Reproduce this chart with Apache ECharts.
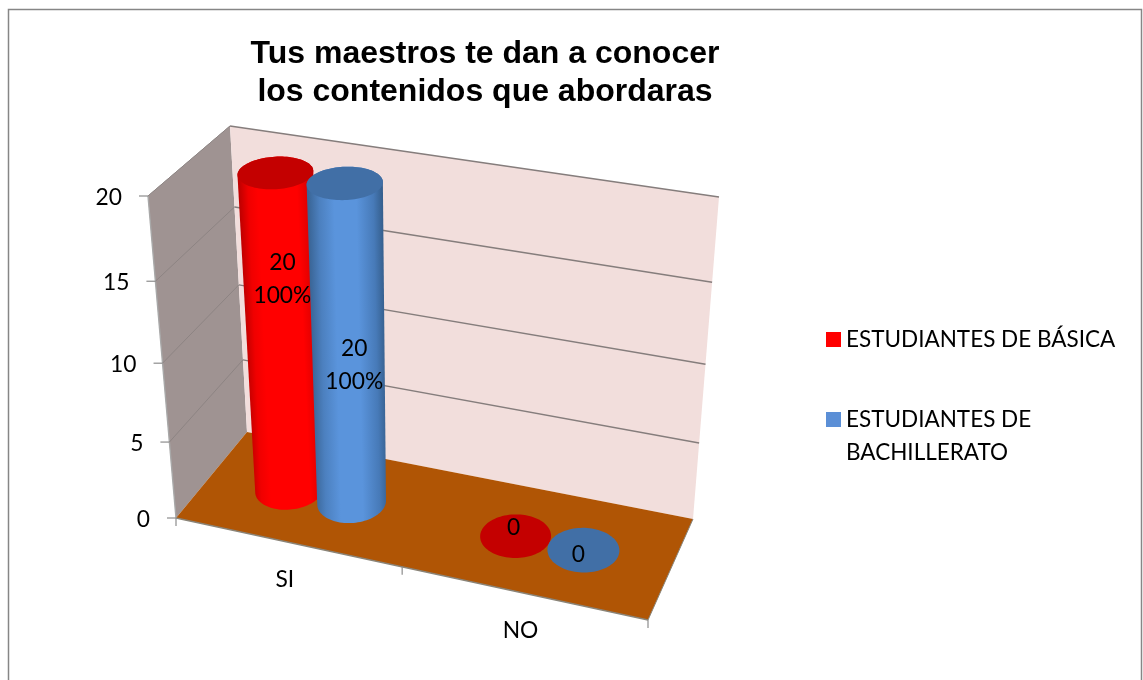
<!DOCTYPE html>
<html>
<head>
<meta charset="utf-8">
<style>html,body{margin:0;padding:0;background:#fff}#c{width:1143px;height:680px}</style>
<script src="https://cdn.jsdelivr.net/npm/echarts@6/dist/echarts.min.js"></script>
</head>
<body>
<div id="c"></div>
<script>
const categories = ['SI', 'NO'];
const valueTicks = [0, 5, 10, 15, 20];
const basica = [20, 0];
const bachillerato = [20, 0];
const basicaPct = [100, 0];
const bachilleratoPct = [100, 0];
const titleText = 'Tus maestros te dan a conocer\nlos contenidos que abordaras';
const nameBasica = 'ESTUDIANTES DE BÁSICA';
const nameBachillerato = 'ESTUDIANTES DE\nBACHILLERATO';

const FONT = 'Lato';
// Box corners on the page: [u][v][w] -> category, value, depth
const CORNERS = {
  '000': [176, 518], '100': [648, 620], '001': [247, 432], '101': [693, 519],
  '010': [148, 196], '110': [680, 279], '011': [230, 126], '111': [719, 197]
};
const persp = (t, k) => t / (k + t * (1 - k));
function project(u, v, w) {
  const a = persp(u, 1.087), b = persp(v, 1.08), c = persp(w, 0.9375);
  let x = 0, y = 0;
  for (const key in CORNERS) {
    const f = (key[0] === '1' ? a : 1 - a) * (key[1] === '1' ? b : 1 - b) * (key[2] === '1' ? c : 1 - c);
    x += f * CORNERS[key][0];
    y += f * CORNERS[key][1];
  }
  return [x, y];
}
function norm(params, api, cat, val) {
  const cs = params.coordSys, p = api.coord([cat, val]);
  return [(p[0] - cs.x) / cs.width, (cs.y + cs.height - p[1]) / cs.height];
}
function hull(pts) {
  const s = pts.slice().sort((p, q) => p[0] - q[0] || p[1] - q[1]);
  const cr = (o, a, b) => (a[0] - o[0]) * (b[1] - o[1]) - (a[1] - o[1]) * (b[0] - o[0]);
  const lo = [], up = [];
  for (const p of s) { while (lo.length > 1 && cr(lo[lo.length - 2], lo[lo.length - 1], p) <= 0) lo.pop(); lo.push(p); }
  for (const p of s.slice().reverse()) { while (up.length > 1 && cr(up[up.length - 2], up[up.length - 1], p) <= 0) up.pop(); up.push(p); }
  return lo.slice(0, -1).concat(up.slice(0, -1));
}
const poly = (points, fill, z) => ({ type: 'polygon', shape: { points }, style: { fill }, z2: z || 0 });
const line = (a, b, stroke, width) => ({ type: 'line', shape: { x1: a[0], y1: a[1], x2: b[0], y2: b[1] }, style: { stroke, lineWidth: width || 1 } });
const label = (x, y, text, align, size) => ({ type: 'text', z2: 10, style: { x, y, text, fill: '#000', font: (size || 22.8) + 'px ' + FONT, align: align || 'center', verticalAlign: 'middle', lineHeight: 33 } });

function renderBox() {
  const A = project(0, 1, 0), B = project(0, 1, 1), C = project(0, 0, 1), D = project(0, 0, 0);
  const E = project(1, 1, 1), F = project(1, 0, 1), G = project(1, 0, 0);
  return { type: 'group', children: [
    poly([A, B, C, D], '#9f9392'),
    poly([B, E, F, C], '#f2dedc'),
    poly([D, C, F, G], '#b05505'),
    line(B, E, '#857d7c', 1.4),
    line(A, B, '#a9a2a1', 1),
    line(A, D, '#a8a8a8', 1.4),
    line(D, G, '#8a8478', 1.4),
    line(G, F, '#8a8478', 1)
  ] };
}
function renderTick(params, api) {
  const val = api.value(1);
  const v = norm(params, api, 0, val)[1];
  const a = project(0, v, 0), b = project(0, v, 1), c = project(1, v, 1);
  const kids = [line([a[0] - 9, a[1]], a, '#8c8c8c', 1.2), label(a[0] - 26, a[1] + 1.5, String(val), 'right')];
  if (val > 0) {
    kids.push(line(a, b, '#8d8483', 1));
    if (val < 20) kids.push(line(b, c, '#857d7c', 1.4));
  }
  return { type: 'group', children: kids };
}
function renderCat(params, api) {
  const cat = api.value(0);
  const u = norm(params, api, cat, 0)[0];
  const kids = [];
  const edge = project(u, 0, 0);
  kids.push(label(edge[0] - 2, edge[1] + 38, categories[cat]));
  const r = project(u + 0.25, 0, 0);
  kids.push(line(r, [r[0], r[1] + 8], '#8c8c8c', 1.2));
  if (cat === 0) {
    const o = project(0, 0, 0);
    kids.push(line(o, [o[0], o[1] + 8], '#8c8c8c', 1.2));
  }
  return { type: 'group', children: kids };
}
function cylinder(off, look, pct, lblTall, lblFlat) {
  return function (params, api) {
    const cat = api.value(0), val = api.value(1);
    const n = norm(params, api, cat, val);
    const uc = n[0] + off, vt = n[1], wc = 0.5, ru = 0.071, rw = 0.216;
    const ring = v => {
      const out = [];
      for (let i = 0; i < 96; i++) {
        const th = i / 96 * Math.PI * 2;
        out.push(project(uc + ru * Math.cos(th), v, wc + rw * Math.sin(th)));
      }
      return out;
    };
    const bottom = ring(0), top = ring(vt);
    const cB = project(uc, 0, wc), cT = project(uc, vt, wc);
    const kids = [];
    if (val > 0) {
      const mid = [(cB[0] + cT[0]) / 2, (cB[1] + cT[1]) / 2];
      const dx = cB[0] - cT[0], dy = cB[1] - cT[1], len = Math.hypot(dx, dy);
      const R = 37, px = dy / len * R, py = -dx / len * R;
      const grad = new echarts.graphic.LinearGradient(mid[0] - px, mid[1] - py, mid[0] + px, mid[1] + py, look.stops, true);
      kids.push({ type: 'polygon', shape: { points: hull(bottom.concat(top)) }, style: { fill: grad } });
    }
    kids.push(poly(top, look.cap));
    const m = [(cB[0] + cT[0]) / 2, (cB[1] + cT[1]) / 2];
    const pv = pct[cat];
    const off2 = val > 0 ? lblTall : lblFlat;
    kids.push(label(m[0] + off2[0], m[1] + off2[1], val > 0 ? val + '\n' + pv + '%' : String(val)));
    return { type: 'group', children: kids };
  };
}
const RED = { cap: '#c40000', stops: [
  { offset: 0, color: '#c00000' }, { offset: 0.12, color: '#f00000' }, { offset: 0.25, color: '#ff0000' },
  { offset: 0.78, color: '#ff0000' }, { offset: 0.92, color: '#e00000' }, { offset: 1, color: '#b80000' }] };
const BLUE = { cap: '#416fa6', stops: [
  { offset: 0, color: '#3a6596' }, { offset: 0.15, color: '#4c80bf' }, { offset: 0.35, color: '#5a94dc' },
  { offset: 0.65, color: '#5a94dc' }, { offset: 0.88, color: '#477ab8' }, { offset: 1, color: '#36608f' }] };

const idx = arr => arr.map((v, i) => [i, v]);
const chart = echarts.init(document.getElementById('c'), null, { renderer: 'canvas' });
chart.setOption({
  animation: false,
  backgroundColor: '#ffffff',
  graphic: [{ type: 'rect', z: -1, silent: true, shape: { x: 8.5, y: 9.5, width: 1133, height: 700 }, style: { fill: '#fff', stroke: '#868686', lineWidth: 1.5 } }],
  title: {
    text: titleText, left: 480, top: 30, textAlign: 'center',
    textStyle: { fontFamily: 'Liberation Sans', fontWeight: 'bold', fontSize: 32, lineHeight: 38, color: '#000' }
  },
  legend: {
    left: 821, top: 318, orient: 'vertical', itemWidth: 15, itemHeight: 15, itemGap: 14, selectedMode: false,
    icon: 'rect',
    formatter: name => (name === nameBachillerato ? ' \n' + name : name),
    textStyle: { fontFamily: FONT, fontSize: 22.5, color: '#000', lineHeight: 33 },
    data: [{ name: nameBasica }, { name: nameBachillerato }]
  },
  grid: { left: 176, top: 196, width: 472, height: 322 },
  xAxis: { type: 'category', data: categories, show: false },
  yAxis: { type: 'value', min: 0, max: 20, interval: 5, show: false },
  series: [
    { type: 'custom', name: 'caja', silent: true, clip: false, data: [[0, 0]], renderItem: renderBox, z: 1 },
    { type: 'custom', name: 'valores', silent: true, clip: false, data: valueTicks.map(v => [0, v]), renderItem: renderTick, z: 2 },
    { type: 'custom', name: 'categorias', silent: true, clip: false, data: categories.map((c, i) => [i, 0]), renderItem: renderCat, z: 2 },
    { type: 'custom', name: nameBasica, silent: true, clip: false, itemStyle: { color: '#ff0000' }, data: idx(basica), z: 3,
      renderItem: cylinder(-0.071, RED, basicaPct, [0, -52], [-2, -8]) },
    { type: 'custom', name: nameBachillerato, silent: true, clip: false, itemStyle: { color: '#5b8fd6' }, data: idx(bachillerato), z: 4,
      renderItem: cylinder(0.071, BLUE, bachilleratoPct, [6, 22], [-5, 5]) }
  ]
});
</script>
</body>
</html>
